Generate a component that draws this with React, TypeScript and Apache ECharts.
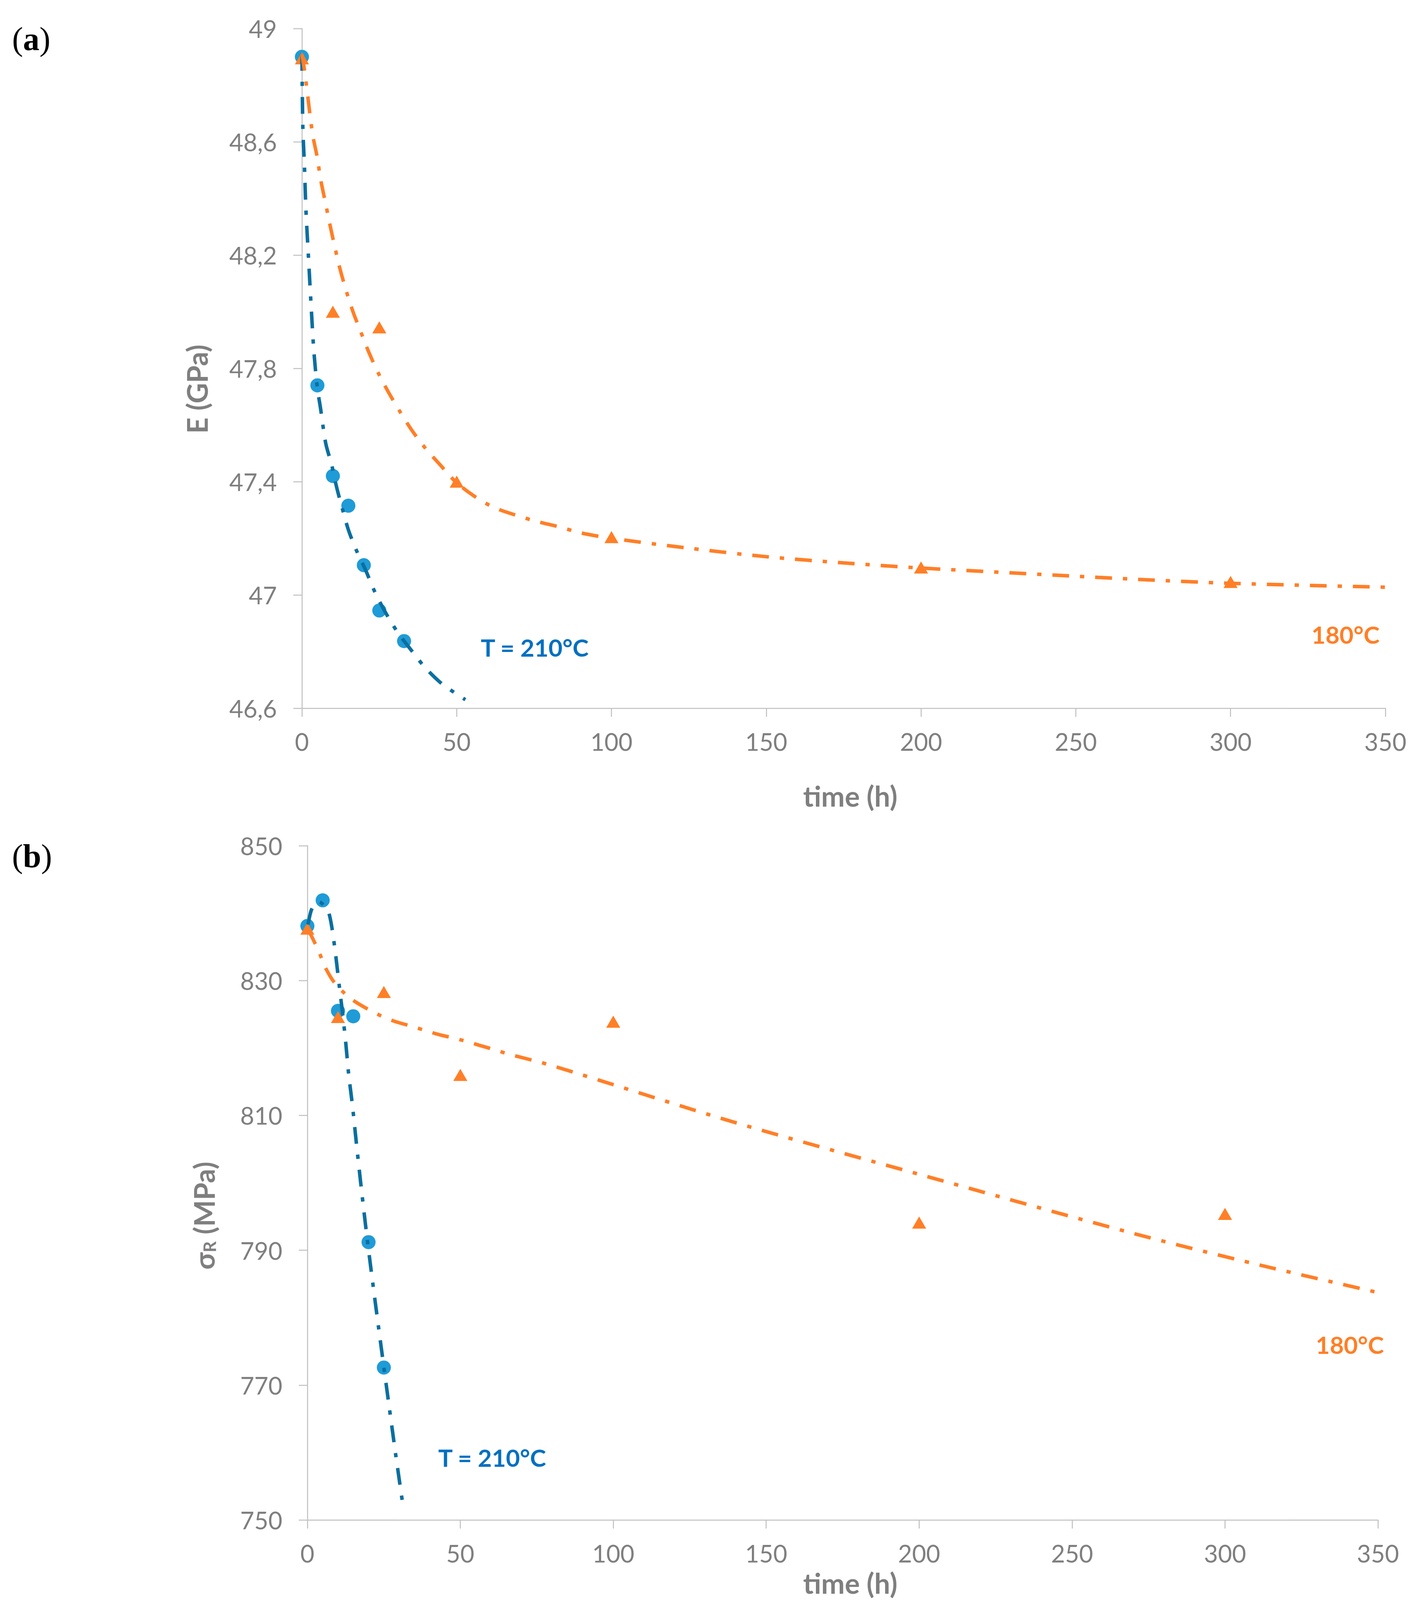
import React, { useEffect, useRef } from "react";
import * as echarts from "echarts";

// ---------- Panel (a): elastic modulus E (GPa) ----------
const timeA210 = [0, 5, 10, 15, 20, 25, 33];
const modA210 = [48.9, 47.74, 47.42, 47.315, 47.105, 46.945, 46.837];
const timeA180 = [0, 10, 25, 50, 100, 200, 300];
const modA180 = [48.895, 48.0, 47.945, 47.4, 47.204, 47.097, 47.046];

// trend curves
const fitA210T = [0, 0.3, 0.8, 1.3, 2.2, 3.0, 3.9, 5.0, 6.0, 7.7, 9.6, 11.2, 13.0, 15.1, 17.7, 20.6, 23.5, 26.9, 30.8, 35.1, 39.6, 44.6, 48.6, 52.8];
const fitA210E = [48.91, 48.65, 48.52, 48.36, 48.176, 48.016, 47.855, 47.73, 47.66, 47.535, 47.46, 47.381, 47.307, 47.227, 47.155, 47.087, 47.012, 46.94, 46.87, 46.808, 46.746, 46.692, 46.66, 46.63];
const fitA180T = [0, 1.0, 3.4, 4.95, 6.0, 7.5, 9.0, 10.5, 12.1, 14.0, 16.5, 18.8, 21.5, 24.6, 28, 31.8, 35.6, 40.1, 44.6, 49.6, 55.5, 61.8, 68.7, 75.7, 83.2, 90.1, 100, 125, 150, 175, 200, 250, 270, 300, 351];
const fitA180E = [48.91, 48.84, 48.63, 48.545, 48.47, 48.39, 48.31, 48.235, 48.16, 48.085, 48.0, 47.935, 47.86, 47.785, 47.715, 47.645, 47.58, 47.515, 47.46, 47.4, 47.35, 47.31, 47.283, 47.26, 47.24, 47.219, 47.2, 47.165, 47.135, 47.113, 47.095, 47.066, 47.055, 47.041, 47.027];

const yTicksA = [46.6, 47, 47.4, 47.8, 48.2, 48.6, 49];

// ---------- Panel (b): strength sigma_R (MPa) ----------
const timeB210 = [0, 5, 10, 15, 20, 25];
const sigB210 = [838.1, 841.9, 825.5, 824.7, 791.2, 772.6];
const timeB180 = [0, 10, 25, 50, 100, 200, 300];
const sigB180 = [837.7, 824.6, 828.3, 816.0, 823.9, 794.1, 795.4];

const fitB210T = [0.2, 1.26, 2.4, 3.6, 4.6, 5.8, 6.9, 8.0, 9.3, 10.4, 11.6, 12.6, 13.5, 14.7, 16.2, 17.8, 19.5, 21.3, 23.2, 24.9, 26.8, 28.9, 31.1];
const fitB210S = [838.3, 840.4, 841.3, 841.7, 841.5, 840.9, 840.2, 837.9, 833.6, 829.3, 824.8, 820.5, 816.1, 811.6, 805.1, 798.5, 791.9, 785.4, 778.8, 773.0, 766.6, 759.6, 752.6];
const fitB180T = [0, 0.85, 2.2, 4.1, 5.8, 8.5, 11.7, 15.2, 19.6, 23.9, 28.2, 33.4, 37.8, 42.1, 47.4, 51.8, 56.2, 61.5, 65.7, 79.5, 139.4, 200.5, 270, 311.4, 356];
const fitB180S = [837.6, 837.0, 835.8, 833.9, 832.0, 829.9, 828.3, 827.0, 825.8, 824.8, 824.0, 823.3, 822.7, 822.1, 821.5, 821.0, 820.4, 819.7, 819.1, 817.45, 809.0, 801.2, 792.5, 787.8, 783.1];

const yTicksB = [750, 770, 790, 810, 830, 850];

const xTickLabels = ["0", "50", "100", "150", "200", "250", "300", "350"];

const BLUE_PT = "#1f9bd7";
const BLUE_LINE = "#0b6f9f";
const BLUE_TXT = "#0070c0";
const ORANGE = "#ff7f27";
const GREY = "#7f7f7f";
const AXIS = "#bfbfbf";
const DASH = [43, 28, 11, 28];

const FULL_W = 3628;
const FULL_H = 4173;

const zip = (a: number[], b: number[]) => a.map((v, i) => [v, b[i]]);
const fmtComma = (v: number) => String(Math.round(v * 10) / 10).replace(".", ",");

function xAxisCfg(gridIndex: number) {
  return {
    type: "value",
    gridIndex,
    min: 0,
    max: 350,
    interval: 50,
    splitLine: { show: false },
    axisLine: { show: true, lineStyle: { color: AXIS, width: 2.5 } },
    axisTick: { show: true, length: 22, lineStyle: { color: AXIS, width: 2.5 } },
    axisLabel: {
      margin: 54,
      color: GREY,
      fontFamily: "Lato",
      fontSize: 62,
      lineHeight: 62,
      formatter: (v: number) => xTickLabels[Math.round(v / 50)] ?? String(v),
    },
  };
}

function yAxisCfg(gridIndex: number, min: number, max: number, ticks: number[], fmt: (v: number) => string) {
  return {
    type: "value",
    gridIndex,
    min,
    max,
    splitLine: { show: false },
    axisLine: { show: true, lineStyle: { color: AXIS, width: 2.5 } },
    axisTick: { show: true, length: 22, customValues: ticks, lineStyle: { color: AXIS, width: 2.5 } },
    axisLabel: {
      margin: 64,
      color: GREY,
      fontFamily: "Lato",
      fontSize: 62,
      customValues: ticks,
      formatter: fmt,
    },
  };
}

function scatter(xi: number, data: number[][], symbol: string, size: any, color: string, z: number) {
  return {
    type: "scatter",
    xAxisIndex: xi,
    yAxisIndex: xi,
    data,
    symbol,
    symbolSize: size,
    itemStyle: { color, opacity: 1 },
    clip: false,
    z,
  };
}

function trend(xi: number, data: number[][], color: string, z: number) {
  return {
    type: "line",
    xAxisIndex: xi,
    yAxisIndex: xi,
    data,
    symbol: "none",
    showSymbol: false,
    smooth: 0.3,
    clip: false,
    lineStyle: { color, width: 9, type: DASH, cap: "butt" },
    z,
  };
}

function txt(x: number, y: number, text: string, color: string, size: number, rotation = 0) {
  return {
    type: "text",
    x,
    y,
    rotation,
    style: {
      text,
      fill: color,
      fontFamily: "Lato",
      fontWeight: "bold",
      fontSize: size,
      lineHeight: size,
      align: "center",
      verticalAlign: "middle",
    },
  };
}

function panelTag(x: number, y: number, letter: string) {
  return {
    type: "text",
    x,
    y,
    style: {
      text: `{p|(}{b|${letter}}{p|)}`,
      align: "center",
      verticalAlign: "middle",
      rich: {
        p: { fontFamily: "Liberation Serif", fontSize: 84, fill: "#000" },
        b: { fontFamily: "Liberation Serif", fontSize: 84, fontWeight: "bold", fill: "#000" },
      },
    },
  };
}

const viewH = () => {
  const h = typeof window !== "undefined" && window.innerHeight ? window.innerHeight : FULL_H;
  return Math.min(FULL_H, h);
};

export default function App() {
  const ref = useRef<HTMLDivElement>(null);
  const H = viewH();
  useEffect(() => {
    document.body.style.margin = "0";
    document.body.style.overflow = "hidden";
    if (!ref.current) return;
    const chart = echarts.init(ref.current, undefined, { renderer: "svg" });
    // keep the bottom axis title inside the visible page
    const bottomTitleY = Math.min(4113, H - 44);
    chart.setOption({
      animation: false,
      backgroundColor: "#ffffff",
      grid: [
        { left: 773, top: 73, width: 2774, height: 1740, containLabel: false },
        { left: 787, top: 2165, width: 2741, height: 1726, containLabel: false },
      ],
      xAxis: [xAxisCfg(0), xAxisCfg(1)],
      yAxis: [
        yAxisCfg(0, 46.6, 49, yTicksA, fmtComma),
        yAxisCfg(1, 750, 850, yTicksB, (v: number) => String(Math.round(v))),
      ],
      series: [
        scatter(0, zip(timeA210, modA210), "circle", 36, BLUE_PT, 2),
        scatter(0, zip(timeA180, modA180), "triangle", [36, 31], ORANGE, 3),
        trend(0, zip(fitA210T, fitA210E), BLUE_LINE, 4),
        trend(0, zip(fitA180T, fitA180E), ORANGE, 4),
        scatter(1, zip(timeB210, sigB210), "circle", 36, BLUE_PT, 2),
        scatter(1, zip(timeB180, sigB180), "triangle", [36, 31], ORANGE, 3),
        trend(1, zip(fitB210T, fitB210S), BLUE_LINE, 4),
        trend(1, zip(fitB180T, fitB180S), ORANGE, 4),
      ],
      graphic: [
        panelTag(80, 99, "a"),
        panelTag(82, 2191, "b"),
        txt(504, 996, "E (GPa)", GREY, 72, Math.PI / 2),
        {
          type: "text",
          x: 522,
          y: 3112,
          rotation: Math.PI / 2,
          style: {
            text: "{s|σ}{r|R}{s| (MPa)}",
            align: "center",
            verticalAlign: "middle",
            rich: {
              s: { fontFamily: "Lato", fontWeight: "bold", fontSize: 72, lineHeight: 72, verticalAlign: "bottom", fill: GREY },
              r: { fontFamily: "Lato", fontWeight: "bold", fontSize: 44, lineHeight: 20, verticalAlign: "bottom", fill: GREY },
            },
          },
        },
        txt(2177, 2037, "time (h)", GREY, 72),
        txt(2177, bottomTitleY, "time (h)", GREY, 72),
        txt(1369, 1657, "T = 210°C", BLUE_TXT, 62),
        txt(3445, 1624, "180°C", ORANGE, 62),
        txt(1260, 3731, "T = 210°C", BLUE_TXT, 62),
        txt(3456, 3442, "180°C", ORANGE, 62),
      ],
    });
    return () => chart.dispose();
  }, [H]);
  return <div ref={ref} style={{ width: FULL_W, height: H, background: "#fff" }} />;
}
